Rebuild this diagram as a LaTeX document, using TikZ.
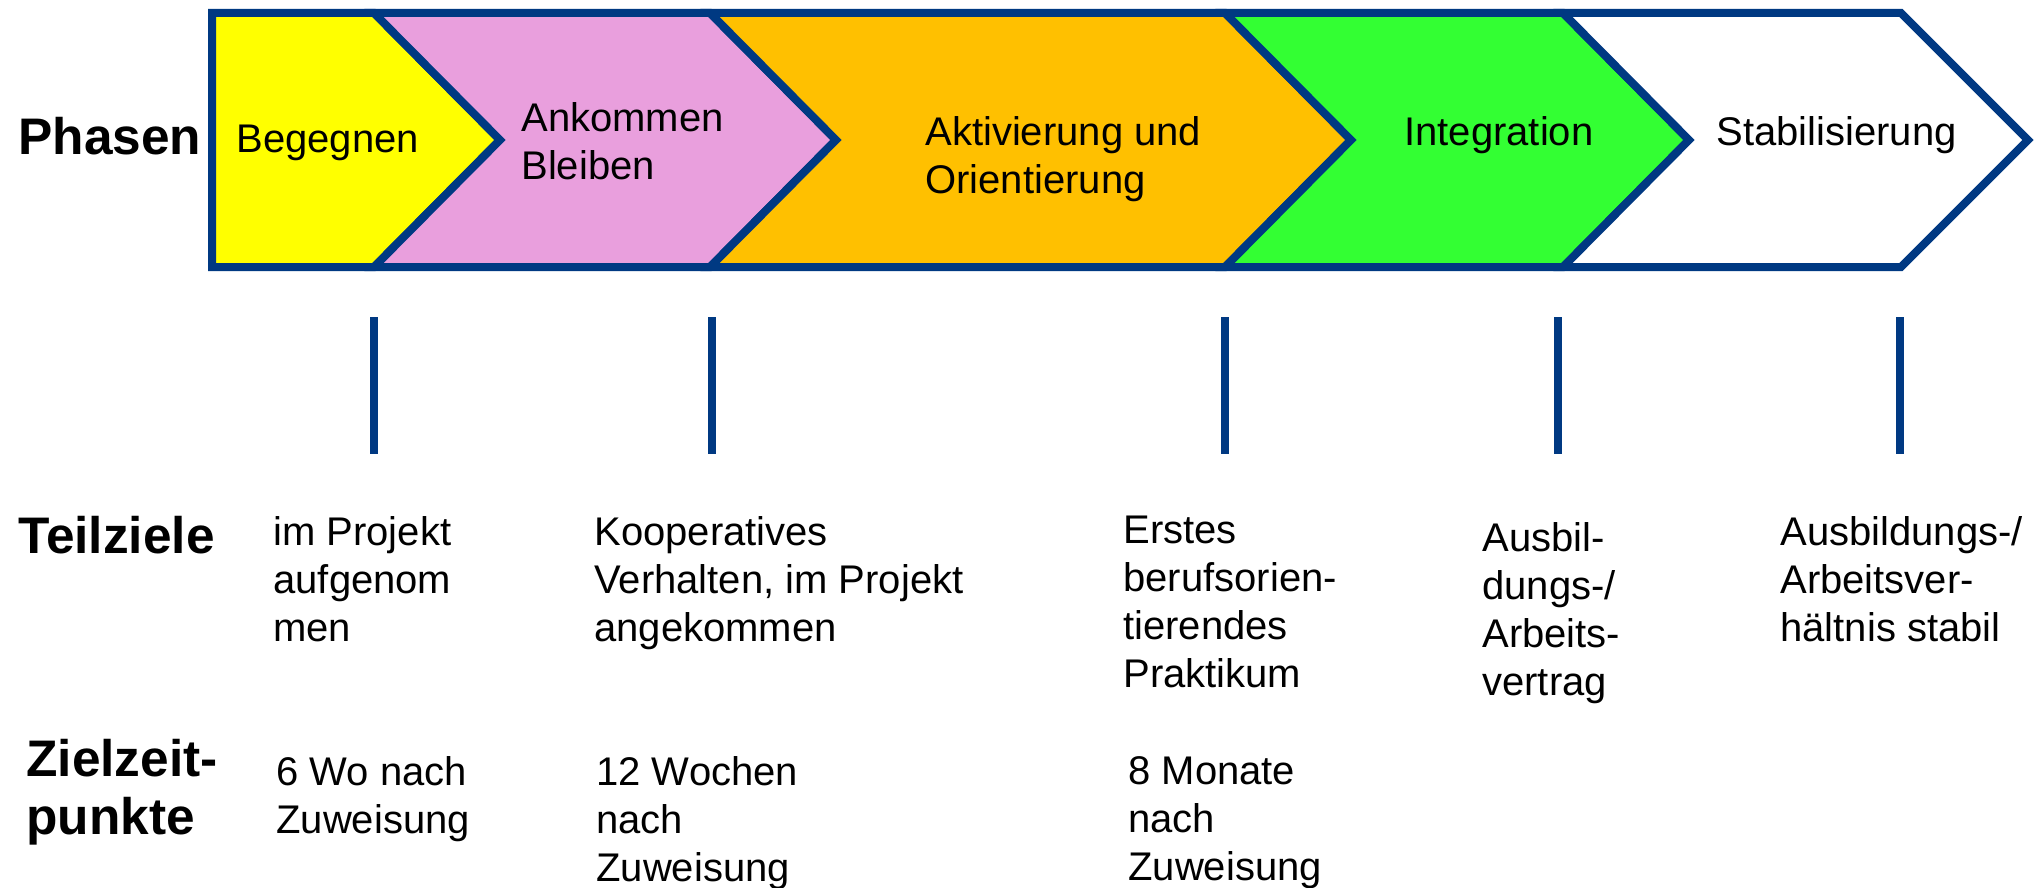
\documentclass[tikz,border=0pt]{standalone}
\usepackage{fontspec}
\setmainfont{Liberation Sans}
\definecolor{navy}{RGB}{0,57,130}
\definecolor{cyellow}{RGB}{255,255,0}
\definecolor{cpink}{RGB}{233,159,221}
\definecolor{corange}{RGB}{255,192,0}
\definecolor{cgreen}{RGB}{51,255,51}
\begin{document}
\begin{tikzpicture}[x=0.5pt,y=-0.5pt,
  phase/.style={draw=navy,line width=4pt,line join=miter},
  txt/.style={anchor=north west,inner sep=0pt,align=left,font=\fontsize{20pt}{24pt}\selectfont},
  head/.style={anchor=north west,inner sep=0pt,align=left,font=\fontsize{25.7pt}{29pt}\selectfont\bfseries},
  tick/.style={draw=navy,line width=4pt}]
\useasboundingbox (0,0) rectangle (2042,888);
% chevrons
\path[phase,fill=cyellow] (212,13) -- (374,13) -- (500,140) -- (374,267) -- (212,267) -- cycle;
\path[phase,fill=cpink] (374,13) -- (710,13) -- (836,140) -- (710,267) -- (374,267) -- (500,140) -- cycle;
\path[phase,fill=corange] (710,13) -- (1225,13) -- (1351,140) -- (1225,267) -- (710,267) -- (836,140) -- cycle;
\path[phase,fill=cgreen] (1225,13) -- (1563,13) -- (1689,140) -- (1563,267) -- (1225,267) -- (1351,140) -- cycle;
\path[phase,fill=white] (1563,13) -- (1901,13) -- (2028,140) -- (1901,267) -- (1563,267) -- (1689,140) -- cycle;
% phase labels
\node[head] (phasen) at (18,117) {Phasen};
\node[txt] (p1) at (236,125) {Begegnen};
\node[txt] (p2) at (521,102) {Ankommen\\Bleiben};
\node[txt] (p3) at (925,116) {Aktivierung und\\Orientierung};
\node[txt] (p4) at (1404,116) {Integration};
\node[txt] (p5) at (1716,116) {Stabilisierung};
% ticks
\foreach \i/\x in {1/374,2/712,3/1225,4/1558,5/1900}{
  \coordinate (ta\i) at (\x,317);
  \coordinate (tb\i) at (\x,454);
  \draw[tick] (ta\i) -- (tb\i);
}
% Teilziele
\node[head] (teil) at (18,516) {Teilziele};
\node[txt] (z1) at (273,516) {im Projekt\\aufgenom\\men};
\node[txt] (z2) at (594,516) {Kooperatives\\Verhalten, im Projekt\\angekommen};
\node[txt] (z3) at (1123,516) {Erstes\\berufsorien-\\tierendes\\Praktikum};
\node[txt] (z4) at (1482,522) {Ausbil-\\dungs-/\\Arbeits-\\vertrag};
\node[txt] (z5) at (1780,516) {Ausbildungs-/\\Arbeitsver-\\hältnis stabil};
% Zielzeitpunkte
\node[head] (zeit) at (26,739) {Zielzeit-\\punkte};
\node[txt] (d1) at (276,756) {6 Wo nach\\Zuweisung};
\node[txt] (d2) at (596,756) {12 Wochen\\nach\\Zuweisung};
\node[txt] (d3) at (1128,756) {8 Monate\\nach\\Zuweisung};
\end{tikzpicture}
\end{document}
